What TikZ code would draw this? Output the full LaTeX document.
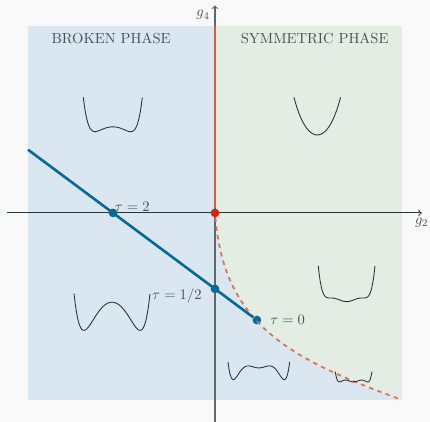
\documentclass[tikz,border=0pt]{standalone}
\usetikzlibrary{positioning}

\definecolor{pagebg}{RGB}{249,249,249}
\definecolor{brokenbg}{RGB}{218,231,241}
\definecolor{symbg}{RGB}{227,237,227}
\definecolor{taublue}{RGB}{10,104,150}
\definecolor{critred}{RGB}{217,90,65}
\definecolor{critdash}{RGB}{224,112,82}
\definecolor{critdotred}{RGB}{215,35,30}
\definecolor{axiscol}{RGB}{40,52,58}
\definecolor{labelcol}{RGB}{70,82,88}

\begin{document}
\begin{tikzpicture}[
    x=0.9cm, y=0.9cm,
    brokenfill/.style={fill=brokenbg},
    symfill/.style={fill=symbg},
    axisline/.style={draw=axiscol, line width=0.7pt, ->},
    critline/.style={draw=critred, line width=1.8pt},
    critdashed/.style={draw=critdash, line width=1.2pt, dashed},
    tauline/.style={draw=taublue, line width=1.8pt},
    taudot/.style={circle, fill=taublue, minimum size=0.21cm, inner sep=0pt},
    critdot/.style={circle, fill=critdotred, minimum size=0.21cm, inner sep=0pt},
    potential/.style={draw=axiscol, line width=0.6pt},
    phaselabel/.style={anchor=base, text=labelcol},
    taulabel/.style={text=labelcol, inner sep=1pt},
]

% Page and phase regions
\useasboundingbox (-5.75,-5.588) rectangle (5.75,5.695);
\fill[pagebg] (-5.75,-5.588) rectangle (5.75,5.695);
\fill[brokenfill] (-5,-5) rectangle (5,5);
\fill[symfill] (0,5) -- (5,5) -- (5,-5) .. controls (2.0,-3.9) and (0.25,-3.0) .. (0,0) -- cycle;

% Axes
\coordinate (xl) at (-5.55,0);
\coordinate (xr) at (5.53,0);
\coordinate (yb) at (0,-5.59);
\coordinate (yt) at (0,5.55);
\draw[axisline] (xl) -- (xr);
\draw[axisline, draw=axiscol!75] (yb) -- (yt);
\node[text=labelcol, below] (g2) at (xr) {$g_2$};
\node[text=labelcol, below left] (g4) at (yt) {$g_4$};

% Phase labels
\node[phaselabel] (broken) at (-2.78,4.537) {BROKEN PHASE};
\node[phaselabel] (sym) at (2.665,4.537) {SYMMETRIC PHASE};

% Points
\node[critdot] (crit)  at (0,0) {};
\node[taudot]  (t2)    at (-2.727,0) {};
\node[taudot]  (thalf) at (0,-2.03) {};
\node[taudot]  (t0)    at (1.12,-2.864) {};
\coordinate (lstart) at (-5,1.692);
\coordinate (ctop) at (0,5);
\coordinate (cend) at (5,-5);

% Transition lines
\draw[critline] (crit) -- (ctop);
\draw[critdashed] (crit) .. controls (0.25,-3.0) and (2.0,-3.9) .. (cend);
\draw[tauline] (lstart) -- (t0);

% Tau labels
\node[taulabel, above right=0pt and 0pt of t2.center] (l2) {$\tau=2$};
\node[taulabel, left=0.28cm of thalf.center, yshift=-0.16cm] (lhalf) {$\tau=1/2$};
\node[taulabel, right=0.28cm of t0.center] (l0) {$\tau=0$};

% Potential sketches
\begin{scope}[shift={(-2.733,2.302)}, xscale=0.789, yscale=1.318]
  \draw[potential] plot[domain=-1:1, samples=61] (\x, {((\x)*(\x))^3 - 0.4*(\x)*(\x)});
\end{scope}
\begin{scope}[shift={(2.735,2.086)}, xscale=0.624, yscale=0.84]
  \draw[potential] plot[domain=-1:1, samples=61] (\x, {(\x)*(\x) + 0.2*((\x)*(\x))^2});
\end{scope}
\begin{scope}[shift={(-2.754,-2.388)}, xscale=1.016, yscale=2.289]
  \draw[potential] plot[domain=-1:1, samples=61] (\x, {((\x)*(\x))^3 - 0.9*(\x)*(\x)});
\end{scope}
\begin{scope}[shift={(3.52,-2.372)}, xscale=0.758, yscale=2.807]
  \draw[potential] plot[domain=-1:1, samples=61] (\x, {((\x)*(\x))^3 - 0.98*((\x)*(\x))^2 + 0.32*(\x)*(\x)});
\end{scope}
\begin{scope}[shift={(1.172,-4.144)}, xscale=0.842, yscale=4.564]
  \draw[potential] plot[domain=-0.98:0.98, samples=61] (\x, {((\x)*(\x))^3 - 1.152*((\x)*(\x))^2 + 0.2204*(\x)*(\x)});
\end{scope}
\begin{scope}[shift={(3.707,-4.519)}, xscale=0.491, yscale=1.623]
  \draw[potential] plot[domain=-1:1, samples=61] (\x, {((\x)*(\x))^3 - 1.176*((\x)*(\x))^2 + 0.3457*(\x)*(\x)});
\end{scope}

\end{tikzpicture}
\end{document}
